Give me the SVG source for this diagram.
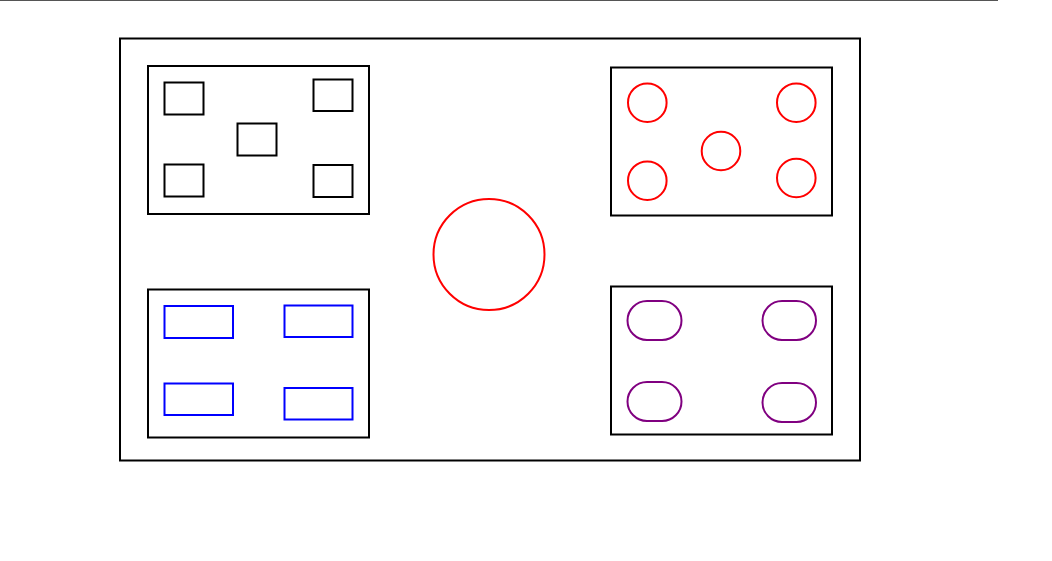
<svg xmlns="http://www.w3.org/2000/svg" width="1052" height="561" viewBox="0 0 1052 561">
<style>
.frame{fill:none;stroke:#000;stroke-width:2}
.box{fill:none;stroke:#000;stroke-width:2}
.sq{fill:none;stroke:#000;stroke-width:2}
.rc{fill:none;stroke:#f00;stroke-width:2}
.bl{fill:none;stroke:#00f;stroke-width:2}
.pl{fill:none;stroke:#800080;stroke-width:2}
</style>
<rect width="1052" height="561" fill="#fff"/>
<line x1="0" y1="0.5" x2="998" y2="0.5" stroke="#555" stroke-width="1.2"/>
<g id="outer"><rect class="frame" x="120" y="38.5" width="740" height="422"/></g>
<g id="panel-tl">
<rect class="box" x="148" y="66" width="221" height="148"/>
<rect class="sq" x="164.5" y="82.5" width="39" height="32"/>
<rect class="sq" x="313.5" y="79.5" width="39" height="31.5"/>
<rect class="sq" x="237.5" y="123.5" width="39" height="32"/>
<rect class="sq" x="164.5" y="164.5" width="39" height="32"/>
<rect class="sq" x="313.5" y="165" width="39" height="32"/>
</g>
<g id="panel-tr">
<rect class="box" x="611" y="67.5" width="221" height="148"/>
<circle class="rc" cx="647.3" cy="102.7" r="19.3"/>
<circle class="rc" cx="796.3" cy="102.7" r="19.3"/>
<circle class="rc" cx="721" cy="151" r="19.3"/>
<circle class="rc" cx="647.3" cy="180.7" r="19.3"/>
<circle class="rc" cx="796.3" cy="178" r="19.3"/>
</g>
<g id="center-circle"><circle class="rc" cx="489" cy="254.5" r="55.5"/></g>
<g id="panel-bl">
<rect class="box" x="148" y="289.5" width="221" height="148"/>
<rect class="bl" x="164.5" y="306" width="68.5" height="32"/>
<rect class="bl" x="284.5" y="305.5" width="68" height="31.5"/>
<rect class="bl" x="164.5" y="383.5" width="68.5" height="31.5"/>
<rect class="bl" x="284.5" y="388" width="68" height="31.5"/>
</g>
<g id="panel-br">
<rect class="box" x="611" y="286.5" width="221" height="148"/>
<rect class="pl" x="627.5" y="301" width="54" height="39" rx="19.5"/>
<rect class="pl" x="762.5" y="301" width="53.5" height="39" rx="19.5"/>
<rect class="pl" x="627.5" y="382" width="54" height="39" rx="19.5"/>
<rect class="pl" x="762.5" y="383" width="53.5" height="39" rx="19.5"/>
</g>
<g id="connectors"></g>
</svg>
